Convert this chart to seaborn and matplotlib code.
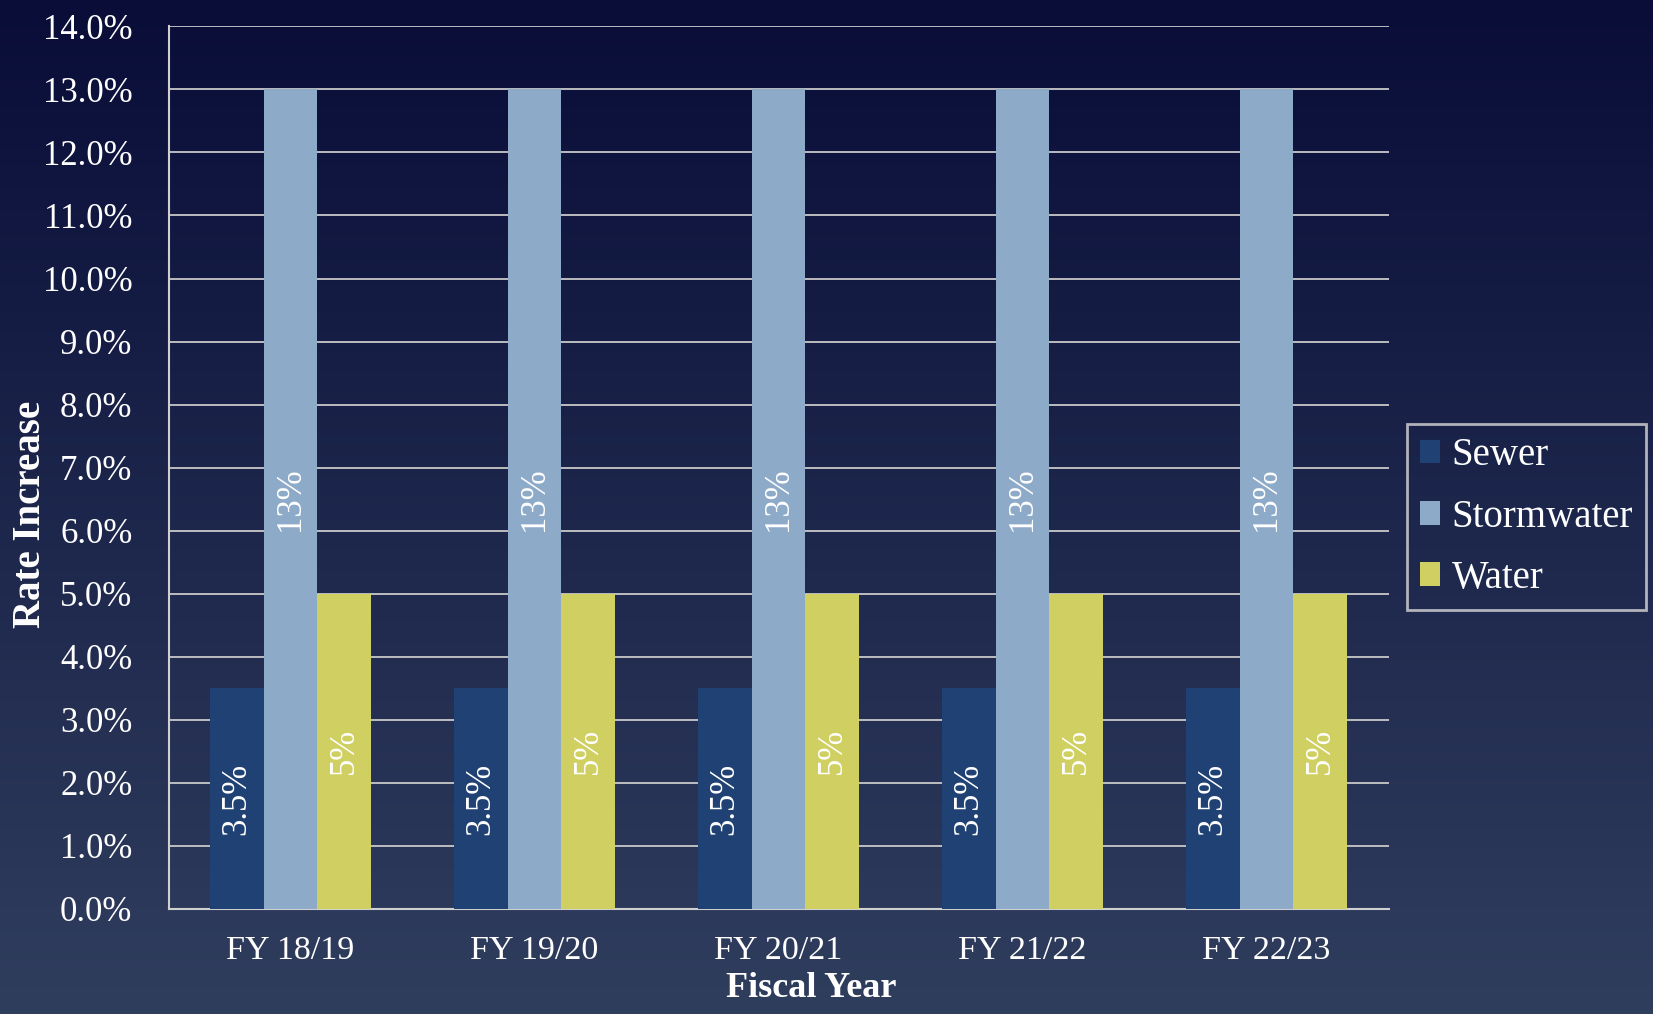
import numpy as np
import pandas as pd
import matplotlib
matplotlib.use("Agg")
import matplotlib.pyplot as plt
import seaborn as sns

# values
years = ["FY 18/19", "FY 19/20", "FY 20/21", "FY 21/22", "FY 22/23"]
sewer = [3.5, 3.5, 3.5, 3.5, 3.5]
stormwater = [13, 13, 13, 13, 13]
water = [5, 5, 5, 5, 5]
series = ["Sewer", "Stormwater", "Water"]
colors = ["#1f4174", "#8eaac9", "#cfcf62"]
y_ticks = np.arange(0, 15, 1)

df = pd.DataFrame({
    "Fiscal Year": years * 3,
    "Rate": sewer + stormwater + water,
    "Type": ["Sewer"] * len(years) + ["Stormwater"] * len(years) + ["Water"] * len(years),
})

sns.set_style("white")
plt.rcParams['font.family'] = ['Liberation Serif', 'DejaVu Serif']

fig = plt.figure(figsize=(16.53, 10.14), dpi=100)

# dark navy gradient behind everything
bg = fig.add_axes([0, 0, 1, 1], zorder=-10)
top = np.array([9, 13, 56]) / 255
bot = np.array([48, 62, 94]) / 255
t = np.linspace(0, 1, 256)[:, None]
grad = (top[None, :] * (1 - t) + bot[None, :] * t)[:, None, :]
bg.imshow(grad, aspect="auto", extent=[0, 1, 0, 1])
bg.axis("off")

ax = fig.add_axes([0.102, 0.1036, 0.738, 0.8704])
ax.set_facecolor("none")

sns.barplot(data=df, x="Fiscal Year", y="Rate", hue="Type", hue_order=series,
            palette=colors, width=0.66, gap=0, saturation=1, ax=ax,
            linewidth=0, zorder=3)

for cont, vals in zip(ax.containers, [sewer, stormwater, water]):
    ax.bar_label(cont, labels=[f"{v:g}%" for v in vals], label_type="center",
                 rotation=90, color="white", fontsize=25, zorder=4)

ax.set_ylim(0, 14)
ax.set_xlim(-0.5, 4.5)
ax.set_yticks(y_ticks)
ax.set_yticklabels([f"{v:.1f}%" for v in y_ticks])
ax.grid(axis="y", color="#c9c9c9", linewidth=1.3, zorder=0)
ax.set_axisbelow(True)
for s in ["top", "right"]:
    ax.spines[s].set_visible(False)
for s in ["left", "bottom"]:
    ax.spines[s].set_color("#d0d0d0")
    ax.spines[s].set_linewidth(1.5)

ax.tick_params(axis="y", length=0, pad=26, labelsize=25, labelcolor="white")
ax.tick_params(axis="x", length=0, pad=19, labelsize=24.5, labelcolor="white")
ax.set_ylabel("Rate Increase", fontsize=28, fontweight="bold", color="white")
ax.set_xlabel("Fiscal Year", fontsize=26, fontweight="bold", color="white")
ax.yaxis.set_label_coords(-0.098, 0.447)
ax.xaxis.set_label_coords(0.527, -0.071)

handles, labels = ax.get_legend_handles_labels()
if ax.legend_:
    ax.legend_.remove()
leg = fig.legend(handles, labels, loc="upper left", bbox_to_anchor=(0.851, 0.582),
                 bbox_transform=fig.transFigure, frameon=True, fancybox=False,
                 fontsize=28, handlelength=0.5, handleheight=0.55, handletextpad=0.3,
                 labelspacing=0.62, borderpad=0.35, borderaxespad=0)
leg.get_frame().set_facecolor("none")
leg.get_frame().set_edgecolor("#d8d8d8")
leg.get_frame().set_linewidth(2)
for txt in leg.get_texts():
    txt.set_color("white")

fig.savefig("out.png", dpi=100)
